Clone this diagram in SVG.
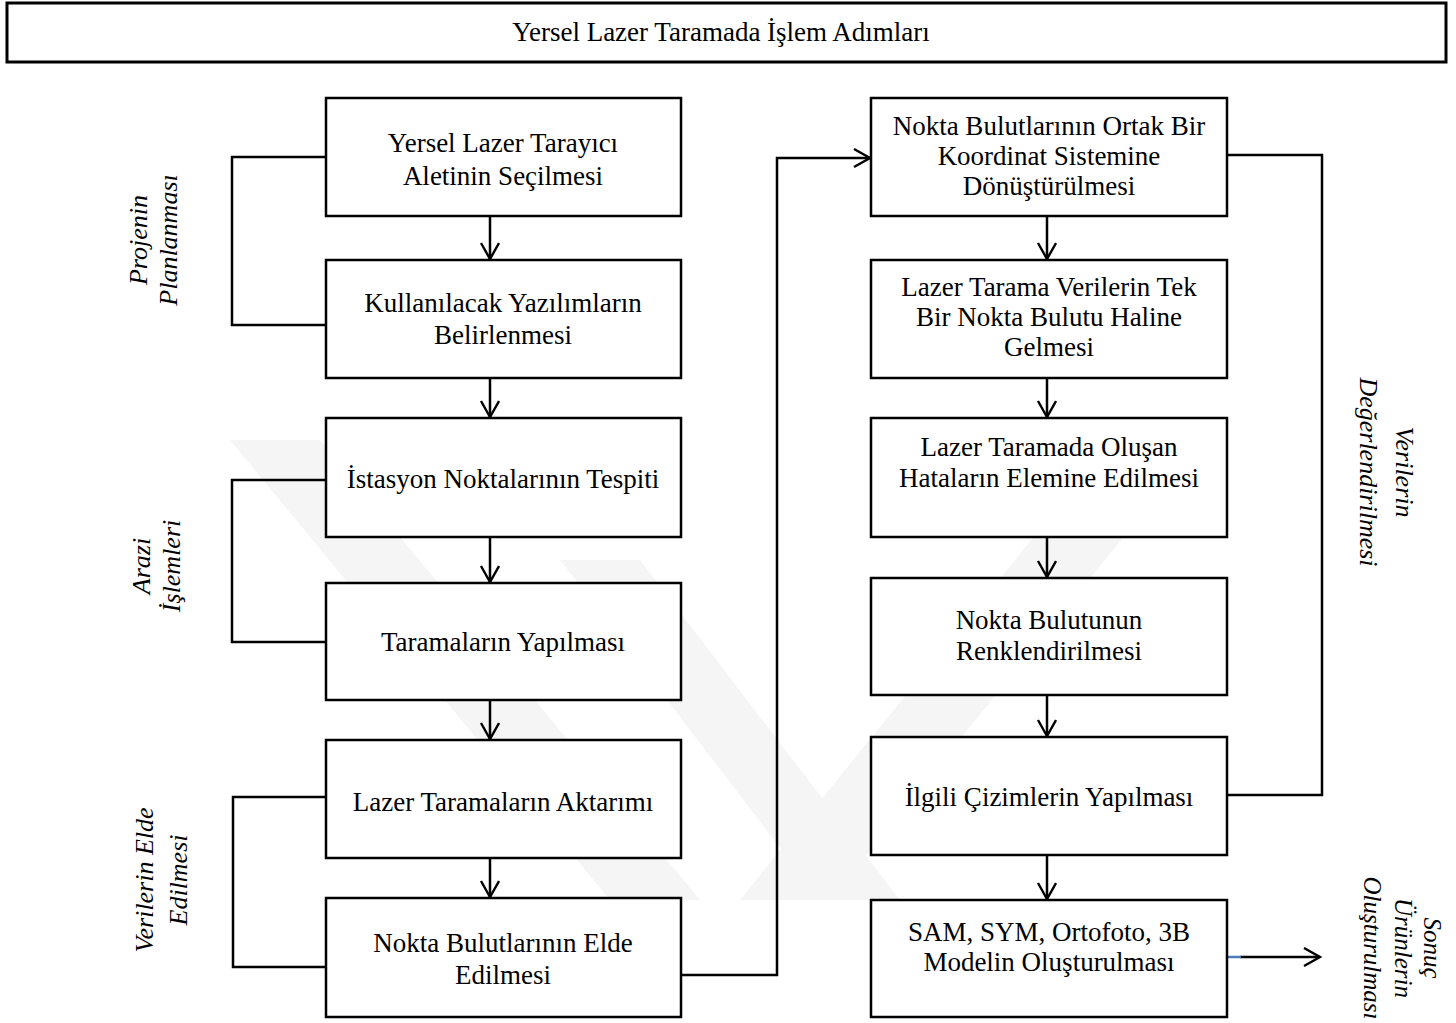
<svg xmlns="http://www.w3.org/2000/svg" width="1456" height="1023" viewBox="0 0 1456 1023">
<style>
.box{fill:#fff;stroke:#000;stroke-width:2.5}
.t{font-family:"Liberation Serif","Times New Roman",serif;font-size:27px;fill:#000;text-anchor:middle}
.lbl{font-family:"Liberation Serif","Times New Roman",serif;font-size:26px;font-style:italic;fill:#000;text-anchor:middle}
.ln{fill:none;stroke:#000;stroke-width:2.5}
.wm{fill:#f5f5f5}
</style>
<defs>
<marker id="ah" markerWidth="22" markerHeight="22" refX="18" refY="10" orient="auto" markerUnits="userSpaceOnUse">
<path d="M2,1 L18,10 L2,19" fill="none" stroke="#000" stroke-width="2.4"/>
</marker>
</defs>
<rect width="1456" height="1023" fill="#fff"/>
<g id="watermark">
<polygon class="wm" points="230,440 320,440 700,900 610,900"/>
<polygon class="wm" points="1120,430 1210,430 830,900 740,900"/>
<polygon class="wm" points="560,560 640,560 900,900 820,900"/>
</g>
<g id="title">
<rect x="7" y="3" width="1439" height="59" fill="#fff" stroke="#000" stroke-width="3"/>
<text class="t" x="721" y="41">Yersel Lazer Taramada İşlem Adımları</text>
</g>
<g id="connectors">
<path class="ln" d="M490,216 V259" marker-end="url(#ah)"/>
<path class="ln" d="M490,378 V417" marker-end="url(#ah)"/>
<path class="ln" d="M490,537 V582" marker-end="url(#ah)"/>
<path class="ln" d="M490,700 V739" marker-end="url(#ah)"/>
<path class="ln" d="M490,858 V897" marker-end="url(#ah)"/>
<path class="ln" d="M1047,216 V259" marker-end="url(#ah)"/>
<path class="ln" d="M1047,378 V417" marker-end="url(#ah)"/>
<path class="ln" d="M1047,537 V577" marker-end="url(#ah)"/>
<path class="ln" d="M1047,695 V736" marker-end="url(#ah)"/>
<path class="ln" d="M1047,855 V899" marker-end="url(#ah)"/>
<path class="ln" d="M681,975 H777 V158 H870" marker-end="url(#ah)"/>
<path class="ln" d="M326,157 H232 V325 H326"/>
<path class="ln" d="M326,480 H232 V642 H326"/>
<path class="ln" d="M326,797 H233 V967 H326"/>
<path class="ln" d="M1227,155 H1322 V795 H1227"/>
<path class="ln" d="M1240,957 H1320" marker-end="url(#ah)"/>
<path d="M1228,957 H1241" stroke="#4a7ebb" stroke-width="2.5"/>
</g>
<g id="n1"><rect class="box" x="326" y="98" width="355" height="118"/>
<text class="t" x="503" y="152">Yersel Lazer Tarayıcı</text><text class="t" x="503" y="185">Aletinin Seçilmesi</text></g>
<g id="n2"><rect class="box" x="326" y="260" width="355" height="118"/>
<text class="t" x="503" y="312">Kullanılacak Yazılımların</text><text class="t" x="503" y="344">Belirlenmesi</text></g>
<g id="n3"><rect class="box" x="326" y="418" width="355" height="119"/>
<text class="t" x="503" y="488">İstasyon Noktalarının Tespiti</text></g>
<g id="n4"><rect class="box" x="326" y="583" width="355" height="117"/>
<text class="t" x="503" y="651">Taramaların Yapılması</text></g>
<g id="n5"><rect class="box" x="326" y="740" width="355" height="118"/>
<text class="t" x="503" y="811">Lazer Taramaların Aktarımı</text></g>
<g id="n6"><rect class="box" x="326" y="898" width="355" height="119"/>
<text class="t" x="503" y="952">Nokta Bulutlarının Elde</text><text class="t" x="503" y="984">Edilmesi</text></g>
<g id="r1"><rect class="box" x="871" y="98" width="356" height="118"/>
<text class="t" x="1049" y="135">Nokta Bulutlarının Ortak Bir</text><text class="t" x="1049" y="165">Koordinat Sistemine</text><text class="t" x="1049" y="195">Dönüştürülmesi</text></g>
<g id="r2"><rect class="box" x="871" y="260" width="356" height="118"/>
<text class="t" x="1049" y="296">Lazer Tarama Verilerin Tek</text><text class="t" x="1049" y="326">Bir Nokta Bulutu Haline</text><text class="t" x="1049" y="356">Gelmesi</text></g>
<g id="r3"><rect class="box" x="871" y="418" width="356" height="119"/>
<text class="t" x="1049" y="456">Lazer Taramada Oluşan</text><text class="t" x="1049" y="487">Hataların Elemine Edilmesi</text></g>
<g id="r4"><rect class="box" x="871" y="578" width="356" height="117"/>
<text class="t" x="1049" y="629">Nokta Bulutunun</text><text class="t" x="1049" y="660">Renklendirilmesi</text></g>
<g id="r5"><rect class="box" x="871" y="737" width="356" height="118"/>
<text class="t" x="1049" y="806">İlgili Çizimlerin Yapılması</text></g>
<g id="r6"><rect class="box" x="871" y="900" width="356" height="117"/>
<text class="t" x="1049" y="941">SAM, SYM, Ortofoto, 3B</text><text class="t" x="1049" y="971">Modelin Oluşturulması</text></g>
<g id="labels">
<g transform="translate(153,240) rotate(-90)"><text class="lbl" x="0" y="-6">Projenin</text><text class="lbl" x="0" y="24">Planlanması</text></g>
<g transform="translate(156,566) rotate(-90)"><text class="lbl" x="0" y="-6">Arazi</text><text class="lbl" x="0" y="24">İşlemleri</text></g>
<g transform="translate(160,880) rotate(-90)"><text class="lbl" x="0" y="-7">Verilerin Elde</text><text class="lbl" x="0" y="27">Edilmesi</text></g>
<g transform="translate(1387,472) rotate(90)"><text class="lbl" x="0" y="-9">Verilerin</text><text class="lbl" x="0" y="27">Değerlendirilmesi</text></g>
<g transform="translate(1404,948) rotate(90)"><text class="lbl" x="0" y="-20" style="font-size:25px">Sonuç</text><text class="lbl" x="0" y="9" style="font-size:25px">Ürünlerin</text><text class="lbl" x="0" y="40" style="font-size:25px">Oluşturulması</text></g>
</g>
</svg>
